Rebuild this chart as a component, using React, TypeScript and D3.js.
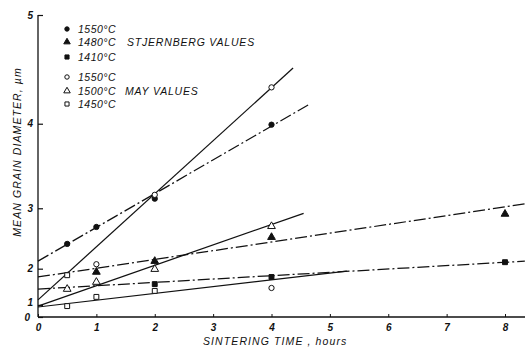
import React, { useRef, useEffect } from "react";
import * as d3 from "d3";

// sintering time (hours) and mean grain diameter (um)
const stj1550T = [0.5, 1, 2, 4];
const stj1550D = [2.46, 2.73, 3.13, 3.99];
const stj1480T = [1, 2, 4, 8];
const stj1480D = [1.93, 2.15, 2.57, 2.92];
const stj1410T = [2, 4, 8];
const stj1410D = [1.65, 1.82, 2.13];

const may1550T = [1, 2, 4, 4];
const may1550D = [2.09, 3.18, 4.36, 1.55];
const may1500T = [0.5, 1, 2, 4];
const may1500D = [1.52, 1.70, 1.99, 2.74];
const may1450T = [0.5, 0.5, 1, 2];
const may1450D = [0.95, 1.86, 1.29, 1.47];

// fitted lines: [t0, d0, t1, d1]
const fitLines = [
  { t: [0, 4.37], d: [1.19, 4.54], dashed: false },
  { t: [0, 4.66], d: [2.15, 4.2], dashed: true },
  { t: [0, 4.55], d: [0.95, 2.93], dashed: false },
  { t: [0, 8.34], d: [1.82, 3.06], dashed: true },
  { t: [0, 8.34], d: [1.52, 2.15], dashed: true },
  { t: [0, 5.29], d: [0.91, 1.95], dashed: false },
];

const xTicks = [0, 1, 2, 3, 4, 5, 6, 7, 8];
const yTicks = [0, 1, 2, 3, 4, 5];

const legendLabels = ["1550°C", "1480°C", "1410°C", "1550°C", "1500°C", "1450°C"];
const legendShapes = ["circle", "triangle", "square", "circle", "triangle", "square"];
const legendFilled = [true, true, true, false, false, false];

const FONT = "'Liberation Sans', Arial, sans-serif";

const App = () => {
  const plot = useRef(null);
  const width = 525;
  const height = 347;

  useEffect(() => {
    const svg = d3.select(plot.current);
    svg.selectAll("*").remove();

    const x = d3.scaleLinear().domain([0, 8]).range([38, 505]);
    const y = d3.scalePow().exponent(2).domain([0, 5]).range([317, 15]);

    const symType = (s) =>
      s === "circle" ? d3.symbolCircle : s === "triangle" ? d3.symbolTriangle : d3.symbolSquare;
    const symSize = (s) => (s === "circle" ? 22 : s === "triangle" ? 26 : 24);

    // axes lines
    svg.append("line").attr("x1", x(0)).attr("x2", 525).attr("y1", y(0)).attr("y2", y(0))
      .attr("stroke", "#111").attr("stroke-width", 1.3);
    svg.append("line").attr("x1", x(0)).attr("x2", x(0)).attr("y1", y(0)).attr("y2", y(5))
      .attr("stroke", "#111").attr("stroke-width", 1.3);

    const yAxis = d3.axisLeft(y).tickValues(yTicks).tickSizeInner(-5).tickSizeOuter(0).tickPadding(5)
      .tickFormat(d3.format("d"));
    svg.append("g").attr("transform", `translate(${x(0)},0)`).call(yAxis)
      .call(g => g.select(".domain").remove())
      .call(g => g.selectAll(".tick line").attr("stroke", "#111").attr("stroke-width", 1.2))
      .call(g => g.selectAll(".tick text")
        .attr("font-family", FONT).attr("font-style", "italic").attr("font-weight", "bold")
        .attr("font-size", 10).attr("fill", "#111")
        .attr("dx", d => (d === 0 ? -3 : 0))
        .attr("dy", d => (d === 1 ? "0.1em" : "0.32em")));

    const xAxis = d3.axisBottom(x).tickValues(xTicks).tickSizeInner(-3).tickSizeOuter(0).tickPadding(7)
      .tickFormat(d3.format("d"));
    svg.append("g").attr("transform", `translate(0,${y(0)})`).call(xAxis)
      .call(g => g.select(".domain").remove())
      .call(g => g.selectAll(".tick line").attr("stroke", "#111").attr("stroke-width", 1))
      .call(g => g.selectAll(".tick text")
        .attr("font-family", FONT).attr("font-style", "italic").attr("font-weight", "bold")
        .attr("font-size", 10).attr("fill", "#111"));

    // axis titles
    svg.append("text").attr("x", 203).attr("y", 345)
      .attr("font-family", FONT).attr("font-style", "italic").attr("font-size", 10.5)
      .attr("letter-spacing", 1.1).attr("fill", "#111")
      .text("SINTERING  TIME , hours");
    svg.append("text").attr("transform", "translate(21,152) rotate(-90)")
      .attr("text-anchor", "middle")
      .attr("font-family", FONT).attr("font-style", "italic").attr("font-size", 10.5)
      .attr("letter-spacing", 1.1).attr("fill", "#111")
      .text("MEAN  GRAIN  DIAMETER, µm");

    // fitted lines
    svg.append("g").selectAll("line").data(fitLines).join("line")
      .attr("x1", d => x(d.t[0])).attr("x2", d => x(d.t[1]))
      .attr("y1", d => y(d.d[0])).attr("y2", d => y(d.d[1]))
      .attr("stroke", "#111").attr("stroke-width", 1.25)
      .attr("stroke-dasharray", d => (d.dashed ? "12,3,2,3" : null));

    // data points
    const series = [
      { t: stj1550T, d: stj1550D, shape: "circle", filled: true },
      { t: stj1480T, d: stj1480D, shape: "triangle", filled: true },
      { t: stj1410T, d: stj1410D, shape: "square", filled: true },
      { t: may1550T, d: may1550D, shape: "circle", filled: false },
      { t: may1500T, d: may1500D, shape: "triangle", filled: false },
      { t: may1450T, d: may1450D, shape: "square", filled: false },
    ];
    series.forEach(s => {
      svg.append("g").selectAll("path").data(s.t.map((t, i) => [t, s.d[i]])).join("path")
        .attr("transform", d => `translate(${x(d[0])},${y(d[1])})`)
        .attr("d", d3.symbol().type(symType(s.shape)).size(symSize(s.shape)))
        .attr("fill", s.filled ? "#111" : "#fff")
        .attr("stroke", "#111").attr("stroke-width", 1);
    });

    // legend
    const rowY = [29, 42, 57, 77, 91, 104];
    const leg = svg.append("g");
    leg.selectAll("path").data(legendShapes).join("path")
      .attr("transform", (d, i) => `translate(67,${rowY[i]})`)
      .attr("d", d => d3.symbol().type(symType(d)).size(symSize(d) * 0.7)())
      .attr("fill", (d, i) => (legendFilled[i] ? "#111" : "#fff"))
      .attr("stroke", "#111").attr("stroke-width", 1);
    leg.selectAll("text.lab").data(legendLabels).join("text").attr("class", "lab")
      .attr("x", 78).attr("y", (d, i) => rowY[i]).attr("dy", "0.35em")
      .attr("font-family", FONT).attr("font-style", "italic").attr("font-size", 10.5)
      .attr("letter-spacing", 0.5).attr("fill", "#111")
      .text(d => d);
    leg.append("text").attr("x", 127).attr("y", rowY[1]).attr("dy", "0.35em")
      .attr("font-family", FONT).attr("font-style", "italic").attr("font-size", 10.5)
      .attr("letter-spacing", 0.8).attr("fill", "#111")
      .text("STJERNBERG  VALUES");
    leg.append("text").attr("x", 125).attr("y", rowY[4]).attr("dy", "0.35em")
      .attr("font-family", FONT).attr("font-style", "italic").attr("font-size", 10.5)
      .attr("letter-spacing", 0.8).attr("fill", "#111")
      .text("MAY  VALUES");
  });

  return (
    <div style={{ position: "fixed", left: 0, top: 0 }}>
      <svg ref={plot} width={width} height={height} style={{ display: "block", background: "#fff" }} />
    </div>
  );
};

export default App;
